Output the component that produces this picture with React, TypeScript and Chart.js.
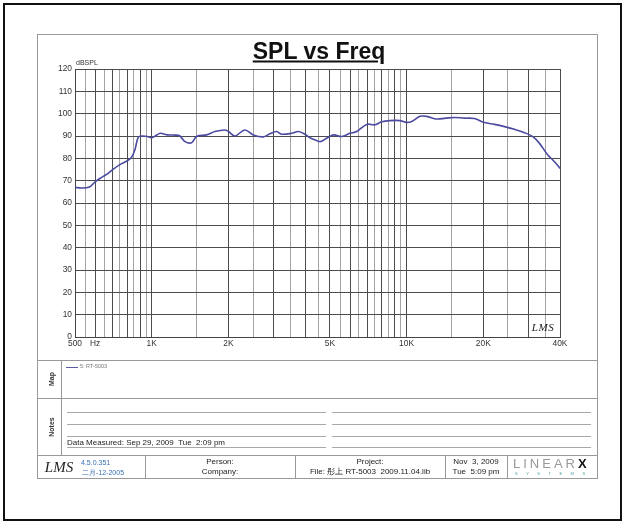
import React, { useEffect, useRef } from 'react';
import { Chart, registerables } from 'chart.js';

Chart.register(...registerables);

// ---- data ----
const FREQ_HZ = [
  500, 530, 570, 600, 630, 665, 707, 750, 796, 834, 860, 886, 920, 960, 1000,
  1040, 1080, 1146, 1235, 1290, 1351, 1434, 1500, 1643, 1770, 1934, 2000, 2122,
  2320, 2503, 2740, 2910, 3090, 3230, 3541, 3760, 3995, 4180, 4430, 4600, 4856,
  5168, 5570, 5995, 6370, 6975, 7515, 7990, 8610, 9420, 10000, 10470, 11290,
  12000, 13120, 14240, 15370, 16850, 18460, 20230, 22140, 24240, 26530, 29040,
  31310, 33230, 35830, 38060, 40000,
];
const SPL_DB = [
  67.0, 66.7, 67.2, 69.5, 71.2, 72.8, 75.2, 77.2, 78.7, 80.5, 84.0, 89.5, 90.0, 89.8, 89.2,
  90.2, 91.2, 90.5, 90.4, 90.0, 87.5, 87.0, 89.8, 90.5, 92.0, 92.7, 92.0, 90.0,
  92.7, 90.5, 89.6, 91.0, 92.0, 90.8, 91.2, 92.0, 90.8, 89.2, 88.0, 87.5, 89.0,
  90.5, 89.8, 91.2, 92.0, 95.2, 95.0, 96.4, 96.9, 96.9, 96.1, 96.5, 98.8,
  98.8, 97.6, 98.0, 98.3, 98.0, 97.8, 96.0, 95.2, 94.2, 93.0, 91.5,
  89.7, 86.7, 81.5, 78.5, 75.5,
];

const X_GRID = [
  500, 550, 600, 650, 700, 750, 800, 850, 900, 950, 1000, 1500, 2000, 2500, 3000,
  3500, 4000, 4500, 5000, 5500, 6000, 6500, 7000, 7500, 8000, 8500, 9000, 9500,
  10000, 15000, 20000, 25000, 30000, 35000, 40000,
];
const X_MAJOR = [
  500, 600, 700, 800, 900, 1000, 2000, 3000, 4000, 5000, 6000, 7000, 8000, 9000,
  10000, 20000, 30000, 40000,
];
const X_TICK_VALUES = [500, 600, 1000, 2000, 5000, 10000, 20000, 40000];
const X_TICK_LABELS = ['500', 'Hz', '1K', '2K', '5K', '10K', '20K', '40K'];
const Y_TICK_LABELS = [0, 10, 20, 30, 40, 50, 60, 70, 80, 90, 100, 110, 120];

const FONT = '"Liberation Sans", Arial, sans-serif';
const SERIF = '"Liberation Serif", "DejaVu Serif", serif';

type TP = {
  x: number; y: number; children: React.ReactNode; size?: number; color?: string;
  align?: 'left' | 'center'; weight?: string | number; style?: React.CSSProperties;
};
function T({ x, y, children, size = 8, color = '#222', align = 'left', weight = 'normal', style }: TP) {
  return (
    <div
      style={{
        position: 'absolute', left: x, top: y, whiteSpace: 'nowrap', fontFamily: FONT,
        fontSize: size, lineHeight: 1, color, fontWeight: weight as any,
        transform: align === 'center' ? 'translate(-50%,-50%)' : 'translateY(-50%)',
        ...style,
      }}
    >
      {children}
    </div>
  );
}

function HLine({ x1, x2, y, color = '#999', h = 1 }: { x1: number; x2: number; y: number; color?: string; h?: number }) {
  return <div style={{ position: 'absolute', left: x1, top: y, width: x2 - x1, height: h, background: color }} />;
}
function VLine({ x, y1, y2, color = '#999' }: { x: number; y1: number; y2: number; color?: string }) {
  return <div style={{ position: 'absolute', left: x, top: y1, width: 1, height: y2 - y1, background: color }} />;
}

export default function App() {
  const ref = useRef<HTMLCanvasElement | null>(null);

  useEffect(() => {
    if (!ref.current) return;
    const chart = new Chart(ref.current, {
      type: 'line',
      data: {
        datasets: [
          {
            label: '5: RT-5003',
            data: FREQ_HZ.map((f, i) => ({ x: f, y: SPL_DB[i] })),
            borderColor: '#4b4ba0',
            borderWidth: 1.6,
            pointRadius: 0,
            tension: 0.35,
            fill: false,
          },
        ],
      },
      options: {
        animation: false,
        responsive: false,
        devicePixelRatio: 1,
        layout: { padding: { left: 45, top: 69, right: 65, bottom: 170 } },
        plugins: { legend: { display: false }, title: { display: false }, tooltip: { enabled: false } },
        scales: {
          x: {
            type: 'logarithmic',
            min: 500,
            max: 40000,
            afterBuildTicks: (scale: any) => {
              scale.ticks = X_GRID.map((v) => ({ value: v }));
            },
            afterFit: (scale: any) => {
              scale.height = 16;
            },
            ticks: {
              autoSkip: false,
              maxRotation: 0,
              padding: 2,
              color: '#333',
              font: { family: FONT, size: 8.4 },
              callback: (v: any) => {
                const i = X_TICK_VALUES.indexOf(Number(v));
                return i >= 0 ? X_TICK_LABELS[i] : '';
              },
            },
            grid: {
              drawTicks: false,
              color: (ctx: any) => (X_MAJOR.includes(ctx.tick?.value) ? '#4c4c4c' : '#a4a4a4'),
              lineWidth: 1,
            },
            border: { display: true, color: '#444' },
          },
          y: {
            type: 'linear',
            min: 0,
            max: 120,
            afterFit: (scale: any) => {
              scale.width = 30;
            },
            ticks: {
              stepSize: 5,
              padding: 3,
              color: '#333',
              font: { family: FONT, size: 8.4 },
              callback: (v: any) => (Y_TICK_LABELS.includes(Number(v)) ? String(v) : ''),
            },
            grid: {
              drawTicks: false,
              color: (ctx: any) => (ctx.tick && ctx.tick.value % 10 === 0 ? '#4c4c4c' : '#a4a4a4'),
              lineWidth: 1,
            },
            border: { display: true, color: '#444' },
          },
        },
      },
    });
    return () => chart.destroy();
  }, []);

  return (
    <div style={{ position: 'absolute', left: 0, top: 0, width: 625, height: 523, background: '#fff', overflow: 'hidden' }}>
      {/* outer border */}
      <div style={{ position: 'absolute', left: 3, top: 3, width: 619, height: 518, boxSizing: 'border-box', border: '2px solid #111' }} />
      {/* page frame */}
      <div style={{ position: 'absolute', left: 37, top: 34, width: 561, height: 445, boxSizing: 'border-box', border: '1px solid #999' }} />
      <HLine x1={37} x2={598} y={360} />
      <HLine x1={37} x2={598} y={398} />
      <HLine x1={37} x2={598} y={455} />
      <VLine x={61} y1={360} y2={455} />
      <VLine x={145} y1={455} y2={479} />
      <VLine x={295} y1={455} y2={479} />
      <VLine x={445} y1={455} y2={479} />
      <VLine x={507} y1={455} y2={479} />

      <canvas ref={ref} width={625} height={523} style={{ position: 'absolute', left: 0, top: 0, width: 625, height: 523 }} />

      {/* title */}
      <T x={319} y={51} size={23} weight="bold" align="center" color="#111" style={{ textDecoration: 'underline', textUnderlineOffset: 2 }}>
        SPL vs Freq
      </T>
      <T x={76} y={62} size={7} color="#333">dBSPL</T>
      <T x={543} y={327} size={11} align="center" color="#222" style={{ fontFamily: SERIF, fontStyle: 'italic', letterSpacing: 0.5 }}>
        LMS
      </T>

      {/* Map section */}
      <T x={51} y={379} size={7} weight="bold" align="center" color="#333" style={{ transform: 'translate(-50%,-50%) rotate(-90deg)' }}>
        Map
      </T>
      <HLine x1={66} x2={78} y={367} color="#5a5aa8" h={1} />
      <T x={80} y={367} size={5.5} color="#777">5: RT-5003</T>

      {/* Notes section */}
      <T x={51} y={427} size={7} weight="bold" align="center" color="#333" style={{ transform: 'translate(-50%,-50%) rotate(-90deg)' }}>
        Notes
      </T>
      {[412, 424, 436, 447].map((y) => (
        <React.Fragment key={y}>
          <HLine x1={67} x2={326} y={y} color="#a8a8a8" />
          <HLine x1={332} x2={591} y={y} color="#a8a8a8" />
        </React.Fragment>
      ))}
      <T x={67} y={443} size={8} color="#222">Data Measured: Sep 29, 2009&nbsp;&nbsp;Tue&nbsp;&nbsp;2:09 pm</T>

      {/* footer */}
      <T x={59} y={467} size={15} align="center" color="#222" style={{ fontFamily: SERIF, fontStyle: 'italic' }}>LMS</T>
      <T x={81} y={462} size={7} color="#3a70b4">4.5.0.351</T>
      <T x={82} y={472} size={7} color="#3a70b4">二月-12-2005</T>
      <T x={220} y={462} size={8} align="center">Person:</T>
      <T x={220} y={472} size={8} align="center">Company:</T>
      <T x={370} y={462} size={8} align="center">Project:</T>
      <T x={370} y={472} size={8} align="center">File: 彤上 RT-5003&nbsp;&nbsp;2009.11.04.lib</T>
      <T x={476} y={462} size={8} align="center">Nov&nbsp;&nbsp;3, 2009</T>
      <T x={476} y={472} size={8} align="center">Tue&nbsp;&nbsp;5:09 pm</T>
      <T x={513} y={463} size={13} color="#999" style={{ letterSpacing: 3 }}>
        LINEAR<span style={{ color: '#111', fontWeight: 'bold', letterSpacing: 0 }}>X</span>
      </T>
      <T x={515} y={474} size={4} color="#4aa0a0" style={{ letterSpacing: 8.5 }}>SYSTEMS</T>
    </div>
  );
}
